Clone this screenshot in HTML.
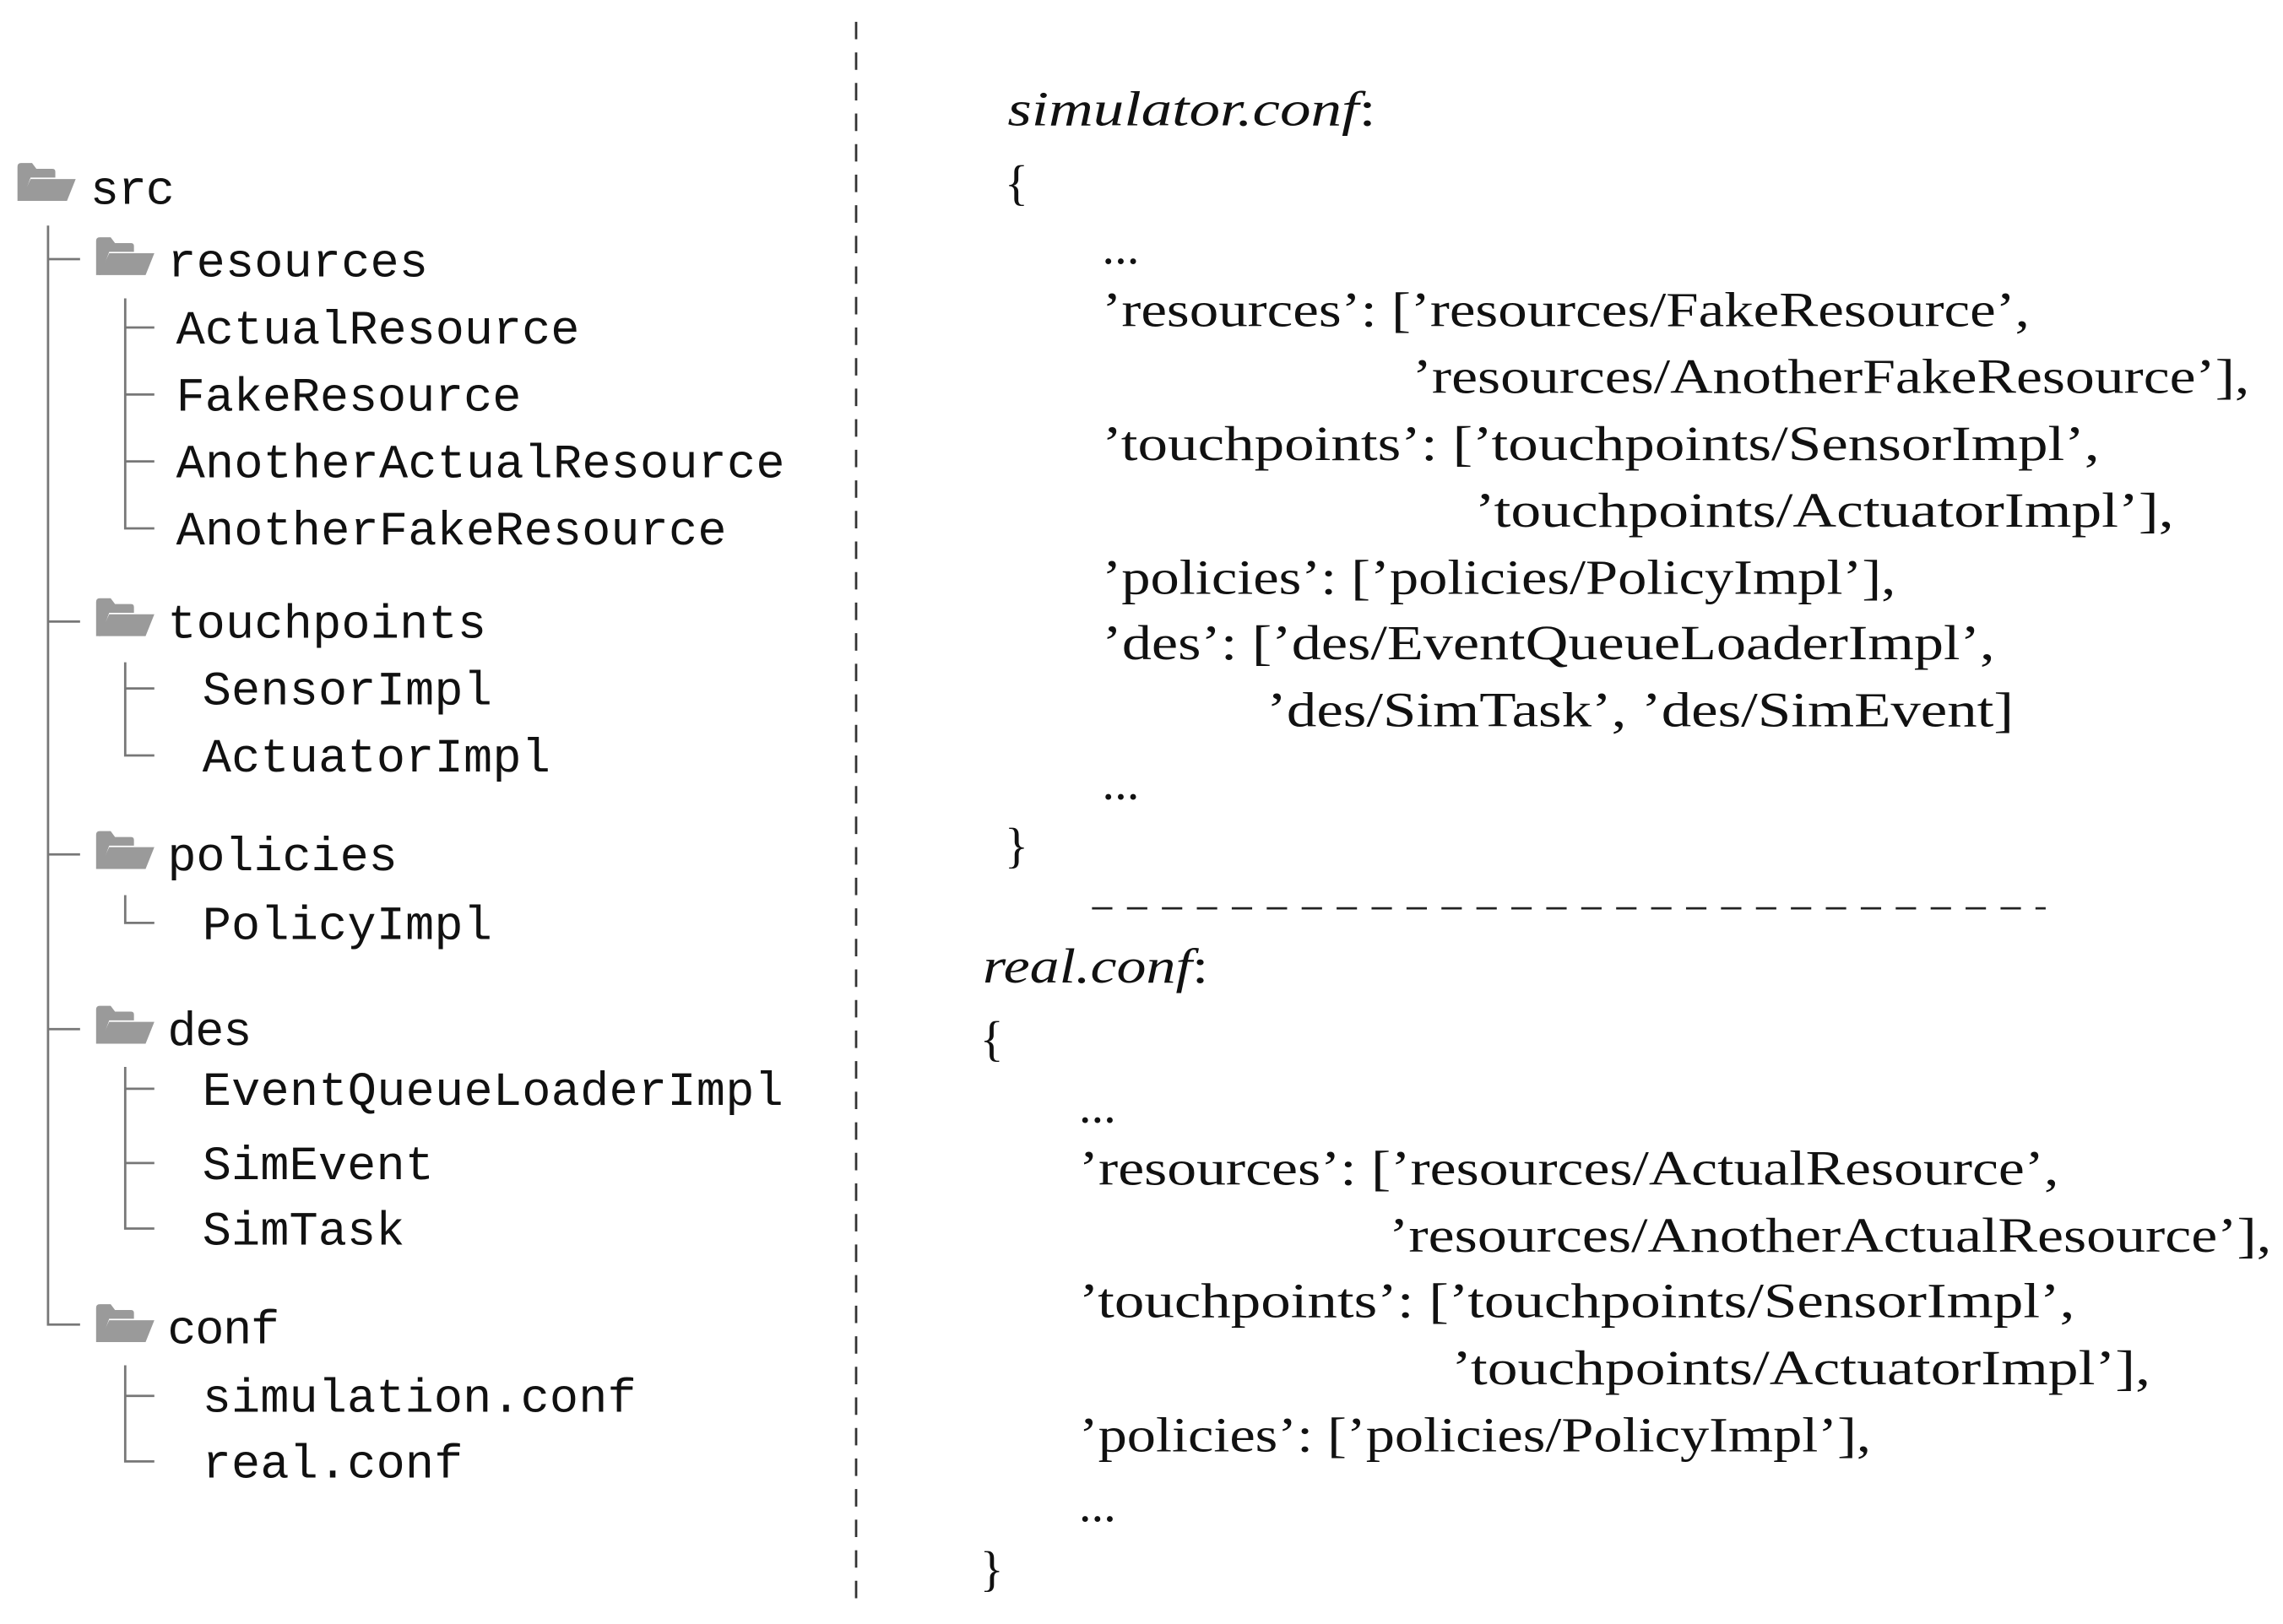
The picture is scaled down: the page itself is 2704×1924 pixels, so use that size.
<!DOCTYPE html>
<html><head><meta charset="utf-8"><style>
html,body{margin:0;padding:0;background:#fff;}
svg{display:block;}
.m{font-family:"Liberation Mono",monospace;font-size:33px;fill:#111;}
.s{font-family:"Liberation Serif",serif;font-size:34px;fill:#111;}
.i{font-style:italic;}
.l{stroke:#777;stroke-width:1.6;fill:none;}
</style></head><body>
<svg width="2704" height="1924" viewBox="0 0 1568 1115.7" preserveAspectRatio="none" xmlns="http://www.w3.org/2000/svg">
<defs>
<g id="f">
<path d="M0 26 V2.5 Q0 0 2.5 0 H10 L13 4 H24 Q26 4 26 6 V10 H9 L3 26 Z" fill="#9a9a9a"/>
<path d="M2 26 L9 11 H40 L34 26 Z" fill="#9a9a9a"/>
</g>
</defs>
<!-- divider -->
<line x1="588" y1="15" x2="588" y2="1105" stroke="#333" stroke-width="1.6" stroke-dasharray="12,9"/>
<!-- tree lines -->
<path class="l" d="M33 155 V910 H55 M33 178 H55 M33 427 H55 M33 587 H55 M33 707 H55"/>
<path class="l" d="M86 205 V363 H106 M86 225 H106 M86 271 H106 M86 317 H106"/>
<path class="l" d="M86 455 V519 H106 M86 473 H106"/>
<path class="l" d="M86 615 V634 H106"/>
<path class="l" d="M86 733 V844 H106 M86 748 H106 M86 799 H106"/>
<path class="l" d="M86 938 V1004 H106 M86 959 H106"/>
<!-- folders -->
<use href="#f" x="12" y="112"/>
<use href="#f" x="66" y="163"/>
<use href="#f" x="66" y="411"/>
<use href="#f" x="66" y="571"/>
<use href="#f" x="66" y="691"/>
<use href="#f" x="66" y="896"/>
<!-- tree text -->
<text class="m" x="62" y="140" textLength="58">src</text>
<text class="m" x="115" y="190" textLength="179">resources</text>
<text class="m" x="121" y="236" textLength="277">ActualResource</text>
<text class="m" x="121" y="282" textLength="237">FakeResource</text>
<text class="m" x="121" y="328" textLength="418">AnotherActualResource</text>
<text class="m" x="121" y="374" textLength="378">AnotherFakeResource</text>
<text class="m" x="115" y="438" textLength="219">touchpoints</text>
<text class="m" x="139" y="484" textLength="199">SensorImpl</text>
<text class="m" x="139" y="530" textLength="239">ActuatorImpl</text>
<text class="m" x="115" y="598" textLength="158">policies</text>
<text class="m" x="139" y="645" textLength="199">PolicyImpl</text>
<text class="m" x="115" y="718" textLength="58">des</text>
<text class="m" x="139" y="759" textLength="399">EventQueueLoaderImpl</text>
<text class="m" x="139" y="810" textLength="159">SimEvent</text>
<text class="m" x="139" y="855" textLength="139">SimTask</text>
<text class="m" x="115" y="923" textLength="77">conf</text>
<text class="m" x="139" y="970" textLength="298">simulation.conf</text>
<text class="m" x="139" y="1015" textLength="179">real.conf</text>
<!-- right: simulator.conf -->
<g class="s">
<text x="692" y="86" textLength="253" lengthAdjust="spacingAndGlyphs"><tspan class="i">simulator.conf</tspan>:</text>
<text x="690" y="137">{</text>
<text x="757" y="181">...</text>
<text x="757" y="224" textLength="637" lengthAdjust="spacingAndGlyphs">’resources’: [’resources/FakeResource’,</text>
<text x="970" y="270" textLength="575" lengthAdjust="spacingAndGlyphs">’resources/AnotherFakeResource’],</text>
<text x="757" y="316" textLength="685" lengthAdjust="spacingAndGlyphs">’touchpoints’: [’touchpoints/SensorImpl’,</text>
<text x="1013" y="362" textLength="480" lengthAdjust="spacingAndGlyphs">’touchpoints/ActuatorImpl’],</text>
<text x="757" y="408" textLength="545" lengthAdjust="spacingAndGlyphs">’policies’: [’policies/PolicyImpl’],</text>
<text x="757" y="453" textLength="613" lengthAdjust="spacingAndGlyphs">’des’: [’des/EventQueueLoaderImpl’,</text>
<text x="870" y="499" textLength="513" lengthAdjust="spacingAndGlyphs">’des/SimTask’, ’des/SimEvent]</text>
<text x="757" y="549">...</text>
<text x="690" y="592">}</text>
</g>
<line x1="750" y1="624" x2="1405" y2="624" stroke="#222" stroke-width="1.6" stroke-dasharray="14,10"/>
<!-- real.conf -->
<g class="s">
<text x="675" y="675" textLength="155" lengthAdjust="spacingAndGlyphs"><tspan class="i">real.conf</tspan>:</text>
<text x="673" y="725">{</text>
<text x="741" y="771">...</text>
<text x="741" y="814" textLength="673" lengthAdjust="spacingAndGlyphs">’resources’: [’resources/ActualResource’,</text>
<text x="954" y="860" textLength="606" lengthAdjust="spacingAndGlyphs">’resources/AnotherActualResource’],</text>
<text x="741" y="905" textLength="684" lengthAdjust="spacingAndGlyphs">’touchpoints’: [’touchpoints/SensorImpl’,</text>
<text x="997" y="951" textLength="480" lengthAdjust="spacingAndGlyphs">’touchpoints/ActuatorImpl’],</text>
<text x="741" y="997" textLength="544" lengthAdjust="spacingAndGlyphs">’policies’: [’policies/PolicyImpl’],</text>
<text x="741" y="1045">...</text>
<text x="673" y="1089">}</text>
</g>
</svg>
</body></html>
